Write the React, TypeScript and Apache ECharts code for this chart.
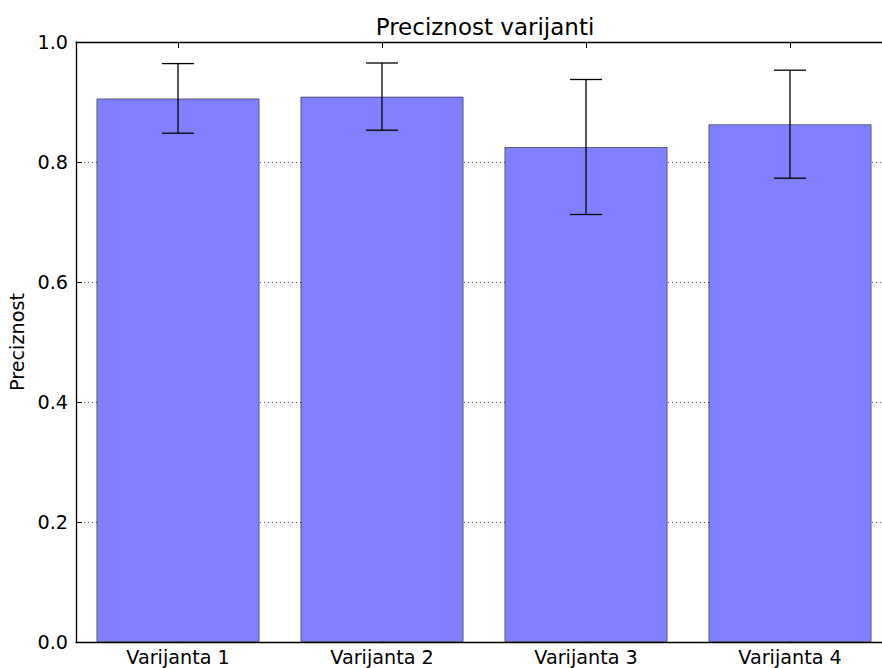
import React, { useEffect, useRef } from "react";
import * as echarts from "echarts";

const categories = ["Varijanta 1", "Varijanta 2", "Varijanta 3", "Varijanta 4"];
const values = [0.906, 0.909, 0.825, 0.863];
const errors = [0.058, 0.056, 0.1125, 0.09];

const FONT = "DejaVu Sans";

export default function App() {
  const ref = useRef<HTMLDivElement>(null);
  useEffect(() => {
    if (!ref.current) return;
    const chart = echarts.init(ref.current, null, { renderer: "svg" });
    const errData = categories.map((_, i) => [i, values[i] - errors[i], values[i] + errors[i]]);
    chart.setOption({
      animation: false,
      backgroundColor: "#ffffff",
      title: {
        text: "Preciznost varijanti",
        left: 480,
        top: 10,
        textAlign: "center",
        textStyle: { fontFamily: FONT, fontSize: 23, fontWeight: "normal", color: "#000" },
      },
      grid: {
        left: 76,
        top: 42,
        width: 816,
        height: 600,
        show: false,
        outerBoundsMode: "none",
        containLabel: false,
      },
      xAxis: [
        {
          type: "category",
          data: categories,
          boundaryGap: true,
          axisLine: { show: true, lineStyle: { color: "#000", width: 1.3 } },
          axisTick: { show: true, inside: true, alignWithLabel: true, length: 6, lineStyle: { color: "#000", width: 1 } },
          axisLabel: { fontFamily: FONT, fontSize: 19.2, color: "#000", margin: 6 },
          splitLine: { show: false },
        },
        {
          type: "category",
          data: categories,
          position: "top",
          boundaryGap: true,
          axisLine: { show: true, lineStyle: { color: "#000", width: 1.3 } },
          axisTick: { show: true, inside: true, alignWithLabel: true, length: 6, lineStyle: { color: "#000", width: 1 } },
          axisLabel: { show: false },
          splitLine: { show: false },
        },
      ],
      yAxis: {
        type: "value",
        name: "Preciznost",
        nameLocation: "middle",
        nameGap: 47,
        nameTextStyle: { fontFamily: FONT, fontSize: 19.2, color: "#000" },
        min: 0,
        max: 1,
        interval: 0.2,
        axisLine: { show: true, lineStyle: { color: "#000", width: 1.3 } },
        axisTick: { show: true, inside: true, length: 6, lineStyle: { color: "#000", width: 1 } },
        axisLabel: {
          fontFamily: FONT,
          fontSize: 19.2,
          color: "#000",
          margin: 8,
          formatter: (v: number) => v.toFixed(1),
        },
        splitLine: { show: true, lineStyle: { color: "#555", width: 1, type: [1, 3] } },
      },
      series: [
        {
          type: "bar",
          data: values,
          barWidth: "80%",
          itemStyle: { color: "#8080ff", borderColor: "rgba(0,0,0,0.5)", borderWidth: 1 },
          z: 2,
        },
        {
          type: "custom",
          data: errData,
          z: 5,
          renderItem: (params: any, api: any) => {
            const x = api.value(0);
            const lo = api.value(1);
            const hi = api.value(2);
            const pHi = api.coord([x, hi]);
            const pLo = api.coord([x, lo]);
            const cap = 16;
            const style = { stroke: "#000", lineWidth: 1.3 };
            return {
              type: "group",
              children: [
                { type: "line", shape: { x1: pHi[0], y1: pHi[1], x2: pLo[0], y2: pLo[1] }, style },
                { type: "line", shape: { x1: pHi[0] - cap, y1: pHi[1], x2: pHi[0] + cap, y2: pHi[1] }, style },
                { type: "line", shape: { x1: pLo[0] - cap, y1: pLo[1], x2: pLo[0] + cap, y2: pLo[1] }, style },
              ],
            };
          },
        },
      ],
    });
    return () => chart.dispose();
  }, []);
  return (
    <div
      ref={ref}
      style={{ position: "fixed", left: 0, top: 0, width: 882, height: 668 }}
    />
  );
}
